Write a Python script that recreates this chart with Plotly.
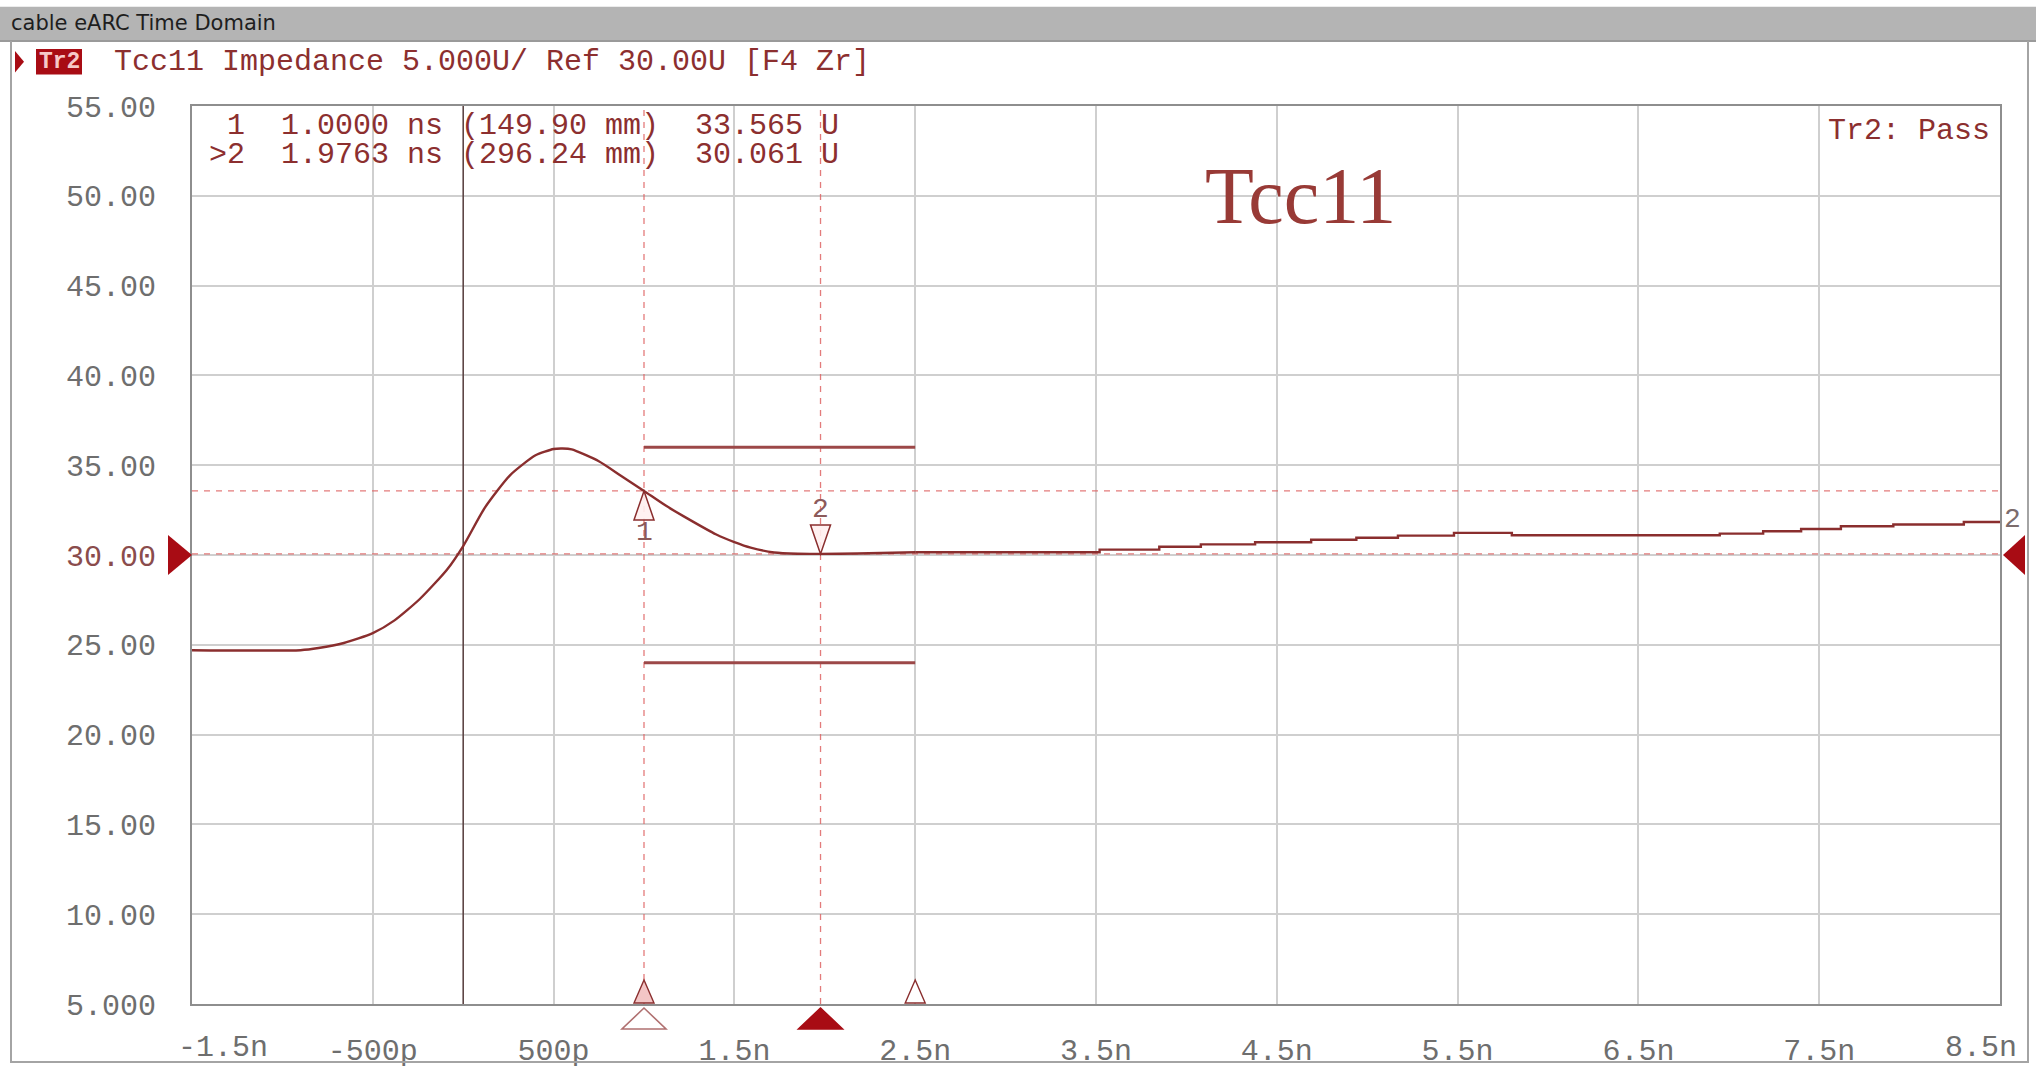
import plotly.graph_objects as go

# ---- Tr2 : Tcc11 impedance, time domain ----
hump_time_ns = [-1.5, -0.9, -0.8, -0.66, -0.5, -0.38, -0.24, -0.09, 0.0, 0.12, 0.26, 0.40,
                0.50, 0.55, 0.60, 0.75, 0.87, 1.0, 1.12, 1.22, 1.40, 1.50, 1.59, 1.72, 1.85,
                1.9763, 2.18, 2.5]
hump_impedance = [24.70, 24.70, 24.82, 25.10, 25.65, 26.36, 27.55, 29.18, 30.50, 32.64, 34.45, 35.55,
                  35.90, 35.93, 35.88, 35.22, 34.43, 33.565, 32.75, 32.15, 31.14, 30.72, 30.41, 30.14, 30.07,
                  30.061, 30.08, 30.15]

# stepped tail of the trace (instrument resolution)
tail_time_ns = [2.5, 3.52, 3.85, 4.08, 4.38, 4.69, 4.94, 5.17, 5.48, 5.80, 6.95, 7.19, 7.40,
                7.62, 7.91, 8.30, 8.5]
tail_impedance = [30.15, 30.30, 30.46, 30.59, 30.71, 30.85, 30.96, 31.08, 31.23, 31.10, 31.19, 31.32,
                  31.45, 31.60, 31.70, 31.84, 31.84]

# markers
marker_ids = ["1", "2"]
marker_time_ns = [1.0, 1.9763]
marker_dist_mm = [149.90, 296.24]
marker_value = [33.565, 30.061]
active_marker = 1

# limit test segment
limit_time_ns = [1.0, 2.5]
limit_upper = [36.0, 36.0]
limit_lower = [24.0, 24.0]

# scale
ref_level = 30.0
scale_per_div = 5.0
x_range_ns = [-1.5, 8.5]
y_range = [5.0, 55.0]
x_tick_ns = [-1.5, -0.5, 0.5, 1.5, 2.5, 3.5, 4.5, 5.5, 6.5, 7.5, 8.5]
x_tick_text = ["-1.5n", "-500p", "500p", "1.5n", "2.5n", "3.5n", "4.5n", "5.5n", "6.5n", "7.5n", "8.5n"]
y_tick_vals = [5, 10, 15, 20, 25, 30, 35, 40, 45, 50, 55]
y_tick_text = ["5.000", "10.00", "15.00", "20.00", "25.00", "30.00", "35.00", "40.00", "45.00", "50.00", "55.00"]

# ---- styling ----
W, H = 2036, 1081
ML, MR, MT, MB = 192, 36, 106, 62
PW, PH = W - ML - MR, H - MT - MB

MONO = "Liberation Mono"
FS = 30
TRACE = "#8A2E2E"
LIMIT = "#9C4848"
DASH = "rgba(222,100,100,0.85)"
GRID = "#CFCFCF"
FRAME = "#8E8E8E"
TICK = "#6E6E6E"
DARKRED = "#8C2F2F"
FILLRED = "#A80C14"


def px(x):
    return (x - ML) / PW


def py(y):
    return (H - MB - y) / PH


def tri_path(pts):
    return "M " + " L ".join(f"{a} {b}" for a, b in pts) + " Z"


fig = go.Figure()

fig.add_trace(go.Scatter(x=hump_time_ns, y=hump_impedance, mode="lines",
                         line=dict(color=TRACE, width=2.4, shape="spline", smoothing=0.6),
                         hoverinfo="skip", showlegend=False))
fig.add_trace(go.Scatter(x=tail_time_ns, y=tail_impedance, mode="lines",
                         line=dict(color=TRACE, width=2.4, shape="hv"),
                         hoverinfo="skip", showlegend=False))
for lim in (limit_upper, limit_lower):
    fig.add_trace(go.Scatter(x=limit_time_ns, y=lim, mode="lines",
                             line=dict(color=LIMIT, width=3),
                             hoverinfo="skip", showlegend=False))

shapes = []

# window chrome: title bar and outer frame
shapes.append(dict(type="rect", xref="paper", yref="paper", x0=px(0), x1=px(W), y0=py(5), y1=py(40),
                   fillcolor="#B4B4B4", line=dict(width=0), layer="below"))
shapes.append(dict(type="line", xref="paper", yref="paper", x0=px(0), x1=px(W), y0=py(40), y1=py(40),
                   line=dict(color="#9A9A9A", width=2)))
shapes.append(dict(type="path", xref="paper", yref="paper",
                   path=f"M {px(11)} {py(40)} L {px(11)} {py(1078)} L {px(2028)} {py(1078)} L {px(2028)} {py(40)}",
                   line=dict(color="#A4A4A4", width=2)))

# header: active-trace arrow and Tr2 badge
shapes.append(dict(type="path", xref="paper", yref="paper",
                   path=tri_path([(px(15), py(50)), (px(24), py(61)), (px(15), py(72))]),
                   fillcolor=FILLRED, line=dict(width=0)))
shapes.append(dict(type="rect", xref="paper", yref="paper", x0=px(36), x1=px(82), y0=py(48), y1=py(74),
                   fillcolor=FILLRED, line=dict(width=0)))

# time-zero line
shapes.append(dict(type="line", xref="x", yref="y", x0=0, x1=0, y0=y_range[0], y1=y_range[1],
                   line=dict(color="#5E4646", width=1.6), layer="between"))

# marker cursor lines
for t, v in zip(marker_time_ns, marker_value):
    shapes.append(dict(type="line", xref="x", yref="y", x0=t, x1=t, y0=y_range[0], y1=y_range[1],
                       line=dict(color=DASH, width=1.3, dash="6px,6px"), layer="between"))
    shapes.append(dict(type="line", xref="x", yref="y", x0=x_range_ns[0], x1=x_range_ns[1], y0=v, y1=v,
                       line=dict(color=DASH, width=1.3, dash="6px,6px"), layer="between"))

# marker symbols on the trace
shapes.append(dict(type="path", xref="x", yref="y", xsizemode="pixel", ysizemode="pixel",
                   xanchor=marker_time_ns[0], yanchor=marker_value[0],
                   path=tri_path([(0, 0), (-10, -29), (10, -29)]),
                   fillcolor="rgba(255,240,240,0.9)", line=dict(color=TRACE, width=1.5)))
shapes.append(dict(type="path", xref="x", yref="y", xsizemode="pixel", ysizemode="pixel",
                   xanchor=marker_time_ns[1], yanchor=marker_value[1],
                   path=tri_path([(0, 0), (-10, 29), (10, 29)]),
                   fillcolor="rgba(255,240,240,0.9)", line=dict(color=TRACE, width=1.5)))

# reference level arrows on both sides
shapes.append(dict(type="path", xref="paper", yref="y", xsizemode="pixel", ysizemode="pixel",
                   xanchor=0, yanchor=ref_level, path=tri_path([(0, 0), (-24, 20), (-24, -20)]),
                   fillcolor=FILLRED, line=dict(width=0)))
shapes.append(dict(type="path", xref="paper", yref="y", xsizemode="pixel", ysizemode="pixel",
                   xanchor=1, yanchor=ref_level, path=tri_path([(3, 0), (25, 20), (25, -20)]),
                   fillcolor=FILLRED, line=dict(width=0)))

# stimulus-axis markers: limit start/stop and marker positions
for t, fill in ((limit_time_ns[0], "#F3C6C6"), (limit_time_ns[1], "#FFFFFF")):
    shapes.append(dict(type="path", xref="x", yref="paper", xsizemode="pixel", ysizemode="pixel",
                       xanchor=t, yanchor=0, path=tri_path([(0, 24), (-10, 1), (10, 1)]),
                       fillcolor=fill, line=dict(color=TRACE, width=1.4)))
for i, t in enumerate(marker_time_ns):
    active = i == active_marker
    shapes.append(dict(type="path", xref="x", yref="paper", xsizemode="pixel", ysizemode="pixel",
                       xanchor=t, yanchor=0, path=tri_path([(0, -4), (-22, -25), (22, -25)]),
                       fillcolor=FILLRED if active else "rgba(255,255,255,0.9)",
                       line=dict(color=FILLRED if active else "#B07070", width=1.6)))

annotations = []

annotations.append(dict(xref="paper", yref="paper", x=px(9), y=py(22), xanchor="left", yanchor="middle",
                        text="cable eARC Time Domain", showarrow=False,
                        font=dict(family="DejaVu Sans", size=21, color="#1E1E1E")))
annotations.append(dict(xref="paper", yref="paper", x=px(59), y=py(61), xanchor="center", yanchor="middle",
                        text="<b>Tr2</b>", showarrow=False, font=dict(family=MONO, size=23, color="#F6C8C8")))
header = f"Tcc11 Impedance {scale_per_div:.3f}U/ Ref {ref_level:.2f}U [F4 Zr]"
annotations.append(dict(xref="paper", yref="paper", x=px(112), y=py(61), xanchor="left", yanchor="middle",
                        text=header.replace(" ", "\u00a0"), showarrow=False,
                        font=dict(family=MONO, size=FS, color=DARKRED)))

# marker readout
for i, (mid, t, d, v) in enumerate(zip(marker_ids, marker_time_ns, marker_dist_mm, marker_value)):
    prefix = ">" if i == active_marker else " "
    line = f"{prefix}{mid}  {t:.4f} ns ({d:.2f} mm)  {v:.3f} U"
    annotations.append(dict(xref="paper", yref="paper", x=px(207), y=py(126 + 30 * i),
                            xanchor="left", yanchor="middle", text=line.replace(" ", "\u00a0"),
                            showarrow=False, font=dict(family=MONO, size=FS, color=DARKRED)))

annotations.append(dict(xref="paper", yref="paper", x=px(1992), y=py(131), xanchor="right", yanchor="middle",
                        text="Tr2:\u00a0Pass", showarrow=False, font=dict(family=MONO, size=FS, color=DARKRED)))

annotations.append(dict(xref="paper", yref="paper", x=px(1300), y=py(198), xanchor="center", yanchor="middle",
                        text="Tcc11", showarrow=False,
                        font=dict(family="Liberation Serif", size=80, color="#983A36")))

# marker numbers next to the symbols
annotations.append(dict(xref="x", yref="y", x=marker_time_ns[0], y=marker_value[0], yshift=-42,
                        text=marker_ids[0], showarrow=False, font=dict(family=MONO, size=28, color="#8C5A5A")))
annotations.append(dict(xref="x", yref="y", x=marker_time_ns[1], y=marker_value[1], yshift=44,
                        text=marker_ids[1], showarrow=False, font=dict(family=MONO, size=28, color="#8C5A5A")))
# trace number at the right edge
annotations.append(dict(xref="paper", yref="y", x=1, y=tail_impedance[-1], xanchor="left", xshift=2, yshift=2,
                        text="2", showarrow=False, font=dict(family=MONO, size=28, color="#7C6C6C")))

# end labels of the time axis sit inside the frame
annotations.append(dict(xref="x", yref="paper", x=x_tick_ns[0], y=0, xshift=31, yshift=-44,
                        yanchor="middle", text=x_tick_text[0], showarrow=False,
                        font=dict(family=MONO, size=FS, color=TICK)))
annotations.append(dict(xref="x", yref="paper", x=x_tick_ns[-1], y=0, xshift=-19, yshift=-44,
                        yanchor="middle", text=x_tick_text[-1], showarrow=False,
                        font=dict(family=MONO, size=FS, color=TICK)))

y_text = [f'<span style="color:#8A4C4C">{s}</span>' if v == ref_level else s
          for v, s in zip(y_tick_vals, y_tick_text)]

fig.update_layout(
    width=W, height=H,
    margin=dict(l=ML, r=MR, t=MT, b=MB),
    paper_bgcolor="#FFFFFF", plot_bgcolor="#FFFFFF",
    showlegend=False,
    shapes=shapes, annotations=annotations,
    xaxis=dict(range=x_range_ns, tickvals=x_tick_ns[1:-1], ticktext=x_tick_text[1:-1],
               showgrid=True, gridcolor=GRID, gridwidth=1.5, zeroline=False,
               showline=True, mirror=True, linecolor=FRAME, linewidth=2, ticks="",
               ticklabelstandoff=18, tickfont=dict(family=MONO, size=FS, color=TICK), fixedrange=True),
    yaxis=dict(range=y_range, tickvals=y_tick_vals, ticktext=y_text,
               showgrid=True, gridcolor=GRID, gridwidth=1.5, zeroline=False,
               showline=True, mirror=True, linecolor=FRAME, linewidth=2, ticks="",
               ticklabelstandoff=28, tickfont=dict(family=MONO, size=FS, color=TICK), fixedrange=True),
)

fig.write_html("out.html")
